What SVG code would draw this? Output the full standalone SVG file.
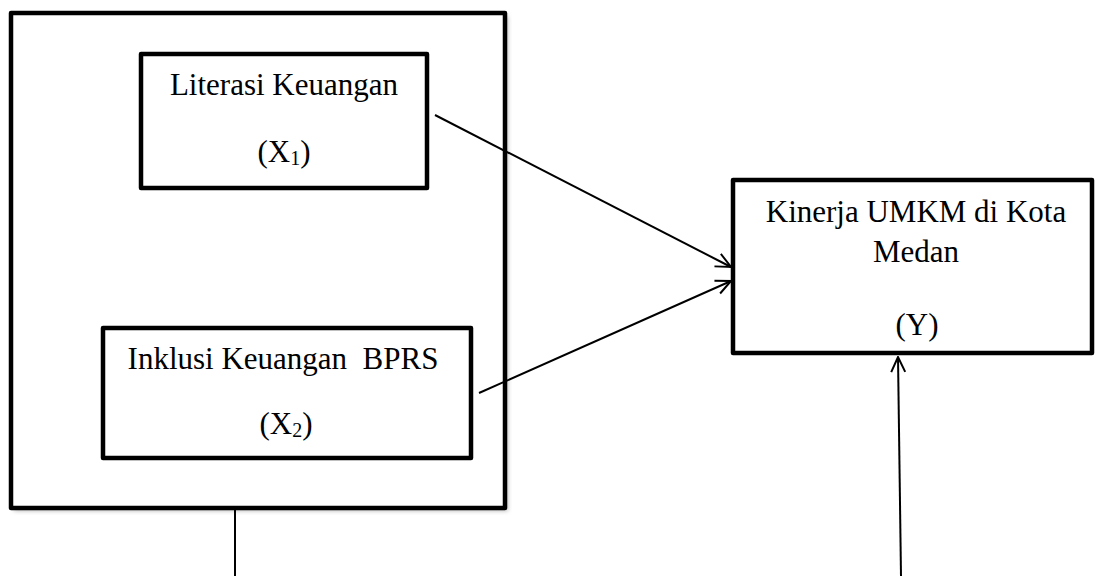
<svg xmlns="http://www.w3.org/2000/svg" width="1095" height="576" viewBox="0 0 1095 576">
<style>
.box{fill:#fff;stroke:#000;stroke-width:4.5;stroke-linejoin:round}
.t{font-family:"Liberation Serif","Times New Roman",serif;font-size:31px;fill:#000;text-anchor:middle}
.c{fill:none;stroke:#000;stroke-width:2}
</style>
<defs>
<marker id="ah" viewBox="0 0 20 20" refX="19" refY="10" markerWidth="20" markerHeight="20" markerUnits="userSpaceOnUse" orient="auto">
<path d="M4,3 L19,10 L4,17" fill="none" stroke="#000" stroke-width="2"/>
</marker>
<filter id="sh" x="-5%" y="-5%" width="115%" height="115%">
<feGaussianBlur stdDeviation="2"/>
</filter>
</defs>
<rect width="1095" height="576" fill="#fff"/>
<g id="group-x">
<rect x="14" y="16" width="494" height="495" fill="#bbb" filter="url(#sh)"/>
<rect x="11" y="13" width="494" height="495" class="box" stroke-width="5"/>
</g>
<g id="node-x1">
<rect x="141" y="54" width="286" height="134" class="box"/>
<text class="t" x="284" y="95">Literasi Keuangan</text>
<text class="t" x="284" y="162">(X<tspan font-size="20" dy="3">1</tspan><tspan dy="-3">)</tspan></text>
</g>
<g id="node-x2">
<rect x="103" y="328" width="368" height="130" class="box"/>
<text class="t" x="283" y="369" xml:space="preserve">Inklusi Keuangan  BPRS</text>
<text class="t" x="286" y="434">(X<tspan font-size="20" dy="3">2</tspan><tspan dy="-3">)</tspan></text>
</g>
<g id="node-y">
<rect x="733" y="180" width="359" height="173" class="box"/>
<text class="t" x="916" y="222">Kinerja UMKM di Kota</text>
<text class="t" x="916" y="262">Medan</text>
<text class="t" x="917" y="335">(Y)</text>
</g>
<g id="connectors">
<line class="c" x1="435" y1="115" x2="731" y2="267" marker-end="url(#ah)"/>
<line class="c" x1="479" y1="393" x2="731" y2="281" marker-end="url(#ah)"/>
<line class="c" x1="235" y1="510" x2="235" y2="576"/>
<line class="c" x1="901" y1="576" x2="898" y2="357" marker-end="url(#ah)"/>
</g>
</svg>
